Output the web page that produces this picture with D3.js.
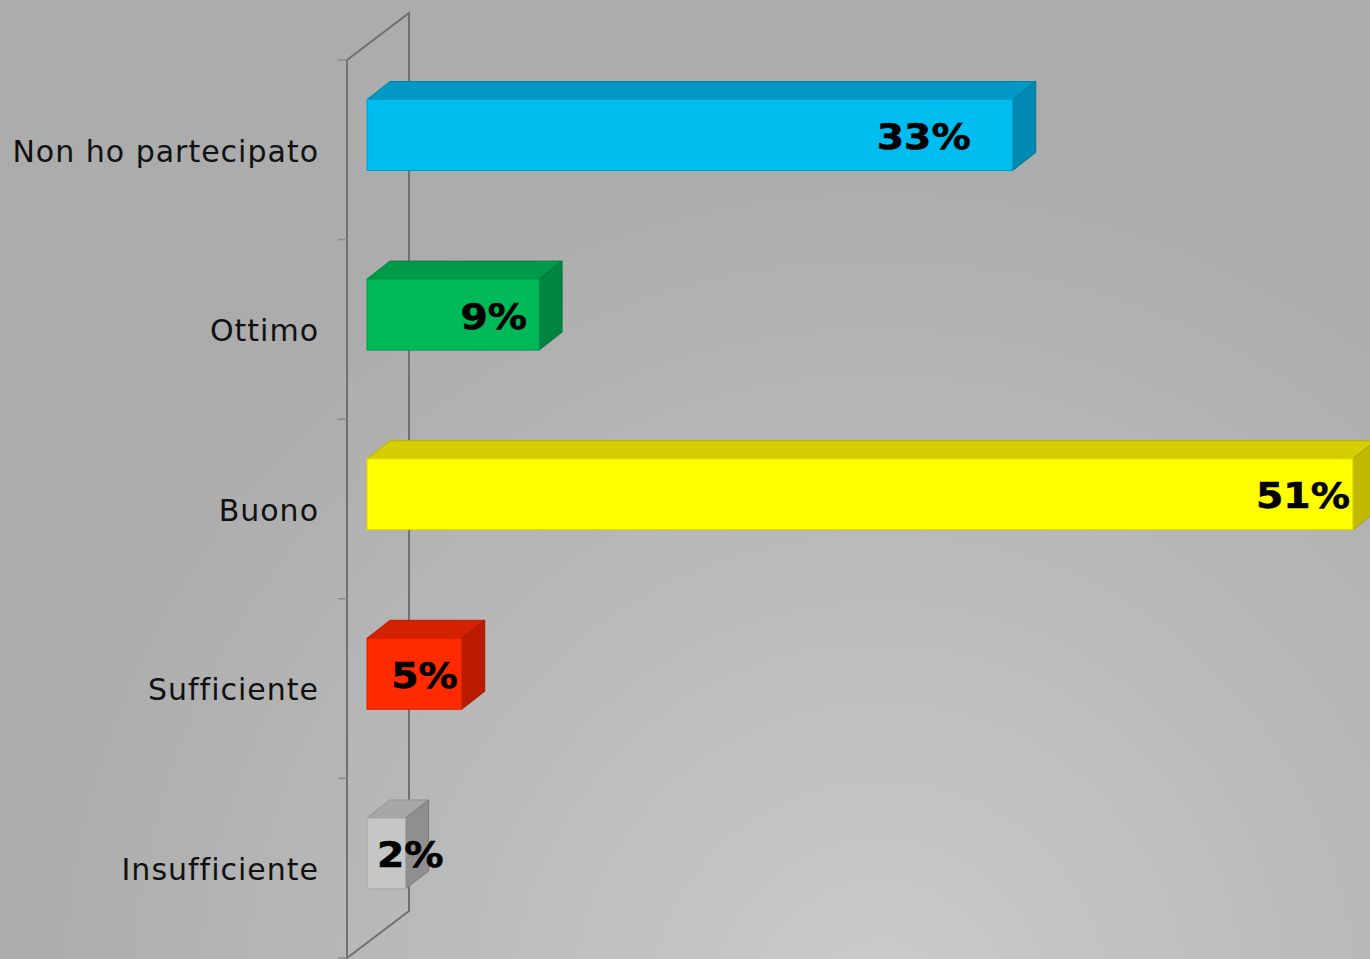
<!DOCTYPE html>
<html>
<head>
<meta charset="utf-8">
<script src="https://cdn.jsdelivr.net/npm/d3@7"></script>
<style>
  html, body { margin: 0; padding: 0; overflow: hidden; }
  svg { display: block; }
</style>
</head>
<body>
<svg id="chart" width="1370" height="959"></svg>
<script>
// chart data
const categories = ["Non ho partecipato", "Ottimo", "Buono", "Sufficiente", "Insufficiente"];
const values = [33.4, 8.9, 51.0, 4.9, 2.0];   // percent
const frontColors = ["#00bdef", "#00ba5a", "#ffff00", "#ff2a00", "#c6c6c6"];
const topColors   = ["#0099c6", "#009a49", "#d6ce00", "#d42100", "#a7a7a7"];
const sideColors  = ["#0089b3", "#008541", "#c2ba00", "#bb1c00", "#8f8f8f"];

// layout
const W = 1370, H = 959;
const depthX = 23, depthY = -18;          // 3d depth of bars
const wallX = 62, wallY = -47;            // depth of the axis wall
const axisX = 347;                        // front edge of the wall
// manual label nudges (px, relative to bar end)
const labelNudge = [-42, -12, -3, -4, 38];

const svg = d3.select("#chart");

// background gradient
const defs = svg.append("defs");
const bg = defs.append("radialGradient")
  .attr("id", "bg")
  .attr("gradientUnits", "userSpaceOnUse")
  .attr("cx", 880).attr("cy", 1010).attr("r", 880);
bg.append("stop").attr("offset", "0%").attr("stop-color", "#cbcbcb");
bg.append("stop").attr("offset", "45%").attr("stop-color", "#bcbcbc");
bg.append("stop").attr("offset", "100%").attr("stop-color", "#acacac");

svg.append("rect").attr("width", W).attr("height", H).attr("fill", "url(#bg)");

const x = d3.scaleLinear().domain([0, 60]).range([367, 367 + 60 * 19.333]);
const y = d3.scaleBand().domain(categories).range([60, 958]).paddingInner(0).paddingOuter(0);

const yTop = y.range()[0], yBot = y.range()[1];

// axis wall (back line + diagonals)
const wall = svg.append("g")
  .attr("fill", "none")
  .attr("stroke", "#707070")
  .attr("stroke-width", 2);

wall.append("path")
  .attr("d", `M${axisX},${yTop} L${axisX + wallX},${yTop + wallY} L${axisX + wallX},${yBot + wallY} L${axisX},${yBot}`);
wall.append("line")
  .attr("x1", axisX).attr("x2", axisX)
  .attr("y1", yTop).attr("y2", H + 5);

// tick marks on the category axis
const ticks = categories.map(c => y(c)).concat([yBot]);
wall.selectAll(".tick")
  .data(ticks)
  .enter()
  .append("line")
  .attr("class", "tick")
  .attr("x1", axisX - 9).attr("x2", axisX)
  .attr("y1", d => d).attr("y2", d => d)
  .attr("stroke-width", 1.5)
  .attr("stroke", "#8a8a8a");

// bars
const bars = svg.selectAll(".bar")
  .data(categories)
  .enter()
  .append("g")
  .attr("class", "bar");

function frontTop(c) { return y(c) + y.bandwidth() * 0.22; }
const barH = 71;

bars.each(function(c, i) {
  const g = d3.select(this);
  const x0 = x(0), x1 = x(values[i]);
  const t = frontTop(c), b = t + barH;

  // top face
  g.append("path")
    .attr("d", `M${x0},${t} L${x0 + depthX},${t + depthY} L${x1 + depthX},${t + depthY} L${x1},${t} Z`)
    .attr("fill", topColors[i])
    .attr("stroke", d3.color(topColors[i]).darker(0.4))
    .attr("stroke-width", 1);

  // side face
  g.append("path")
    .attr("d", `M${x1},${t} L${x1 + depthX},${t + depthY} L${x1 + depthX},${b + depthY} L${x1},${b} Z`)
    .attr("fill", sideColors[i])
    .attr("stroke", d3.color(sideColors[i]).darker(0.4))
    .attr("stroke-width", 1);

  // front face
  g.append("rect")
    .attr("x", x0).attr("y", t)
    .attr("width", x1 - x0).attr("height", barH)
    .attr("fill", frontColors[i])
    .attr("stroke", d3.color(frontColors[i]).darker(0.5))
    .attr("stroke-width", 1);
});

// value labels (slightly widened to mimic Verdana Bold)
svg.selectAll(".val")
  .data(categories)
  .enter()
  .append("text")
  .attr("class", "val")
  .attr("transform", (c, i) =>
    `translate(${x(values[i]) + labelNudge[i]},${frontTop(c) + barH / 2 + 1}) scale(1.09,1)`)
  .attr("dy", "0.36em")
  .attr("text-anchor", "end")
  .attr("font-family", "DejaVu Sans, Verdana, sans-serif")
  .attr("font-weight", "bold")
  .attr("font-size", 36)
  .attr("fill", "#000")
  .attr("stroke", "#000")
  .attr("stroke-width", 0.6)
  .text((c, i) => Math.round(values[i]) + "%");

// category labels
svg.selectAll(".cat")
  .data(categories)
  .enter()
  .append("text")
  .attr("class", "cat")
  .attr("x", 319)
  .attr("y", c => y(c) + y.bandwidth() / 2 + 1)
  .attr("dy", "0.36em")
  .attr("text-anchor", "end")
  .attr("font-family", "DejaVu Sans, Verdana, sans-serif")
  .attr("font-size", 30)
  .attr("letter-spacing", 1)
  .attr("fill", "#111")
  .text(c => c);
</script>
</body>
</html>
